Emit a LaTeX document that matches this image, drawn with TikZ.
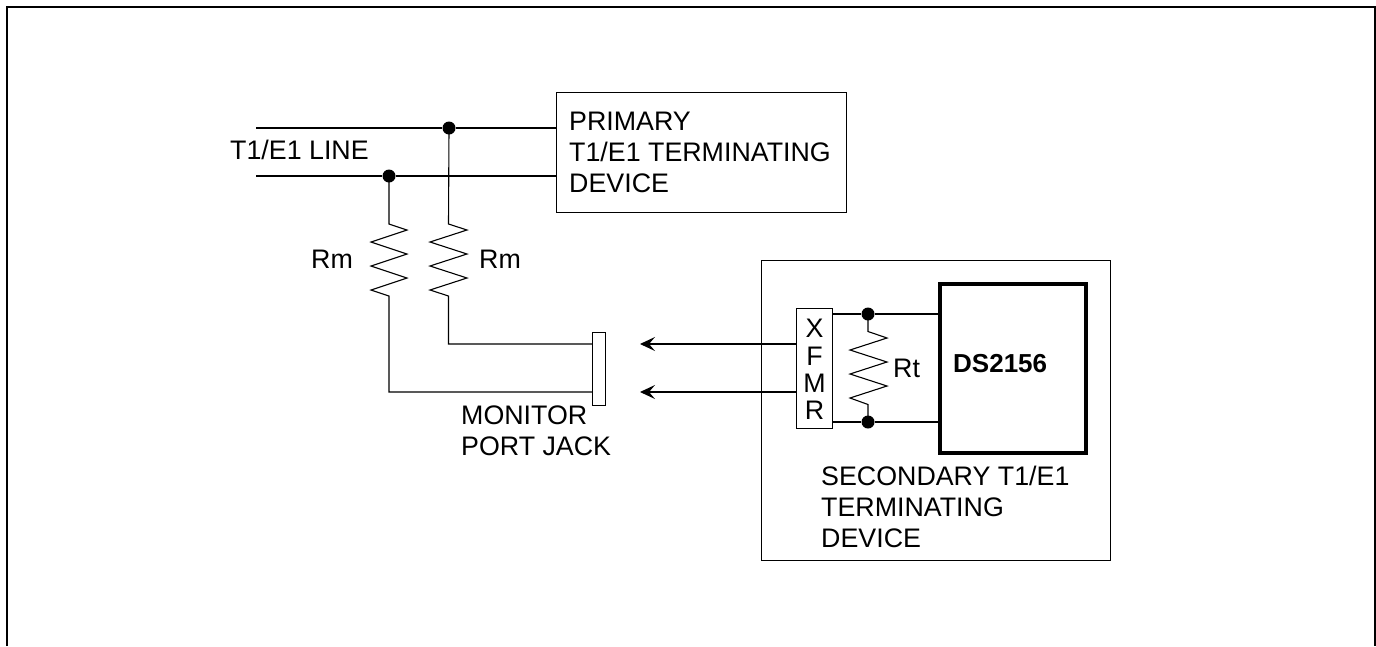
\documentclass[tikz,border=0pt]{standalone}
\usepackage{fontspec}
\setmainfont{Liberation Sans}
\usetikzlibrary{arrows.meta}
\tikzset{
  x=1pt,y=-1pt,
  wire/.style={draw=black,line width=1.1pt},
  box/.style={draw=black,line width=1pt,fill=white,inner sep=0pt},
  dot/.style={circle,fill=black,inner sep=0pt,minimum size=13pt},
  lbl/.style={font=\fontsize{26.8}{31}\selectfont,align=left,inner sep=0pt,anchor=base west},
  arr/.style={wire,-{Stealth[length=15pt,width=14pt,inset=6pt]}}
}
\begin{document}
\begin{tikzpicture}
\useasboundingbox (0,0) rectangle (1376,646);
\draw[line width=2pt] (6.5,646) -- (6.5,6.5) -- (1375,6.5) -- (1375,646);
% boxes
\node[box,minimum width=290pt,minimum height=120pt] (prim) at (701,152) {};
\node[box,minimum width=349pt,minimum height=300pt] (sec) at (935.5,410) {};
\node[box,minimum width=13pt,minimum height=73pt] (jack) at (598.5,368.5) {};
\node[box,minimum width=36pt,minimum height=120pt] (xfmr) at (814.5,368.5) {};
\node[box,line width=3.3pt,minimum width=146pt,minimum height=169pt] (ds) at (1013,368.5) {};
% coordinates
\coordinate (la) at (256,128);
\coordinate (lb) at (256,176);
\node[dot] (d1) at (449,128) {};
\node[dot] (d2) at (389,176) {};
\node[dot] (d3) at (868,314) {};
\node[dot] (d4) at (868,422) {};
\draw[wire] (la) -- (d1) -- (556,128);
\draw[wire] (lb) -- (d2) -- (556,176);
% Rm left
\draw[wire] (d2.center) -- (389,224) -- (407,230) -- (371,242) -- (407,254) -- (371,266) -- (407,278) -- (371,290) -- (389,296) -- (389,392) -- (592,392);
% Rm right
\draw[wire] (d1.center) -- (448.5,224) -- (467,230) -- (430,242) -- (467,254) -- (430,266) -- (467,278) -- (430,290) -- (448.5,296) -- (448.5,344) -- (592,344);
% xfmr to DS
\draw[wire] (832.5,314) -- (d3) -- (940,314);
\draw[wire] (832.5,422) -- (d4) -- (940,422);
% Rt
\draw[wire] (d3.center) -- (868,331.5) -- (887,338) -- (850,350) -- (887,362) -- (850,374) -- (887,386) -- (850,398) -- (868,404.5) -- (d4.center);
% arrows
\draw[arr] (796.5,344) -- (640,344);
\draw[arr] (796.5,392) -- (640,392);
% labels
\node[lbl] (t1) at (569,192) {PRIMARY\\T1/E1 TERMINATING\\DEVICE};
\node[lbl] (t2) at (230,159) {T1/E1 LINE};
\node[lbl] (t3) at (311,268) {Rm};
\node[lbl] (t4) at (479,268) {Rm};
\node[lbl] (t5) at (461,455) {MONITOR\\PORT JACK};
\node[lbl] (t6) at (893,377) {Rt};
\node[lbl,font=\fontsize{26}{31}\selectfont\bfseries] (t7) at (953,372) {DS2156};
\node[lbl] (t8) at (821,547) {SECONDARY T1/E1\\TERMINATING\\DEVICE};
\node[lbl,anchor=base] (x1) at (814.5,337) {X};
\node[lbl,anchor=base] (x2) at (814.5,365) {F};
\node[lbl,anchor=base] (x3) at (814.5,392) {M};
\node[lbl,anchor=base] (x4) at (814.5,419) {R};
\end{tikzpicture}
\end{document}
